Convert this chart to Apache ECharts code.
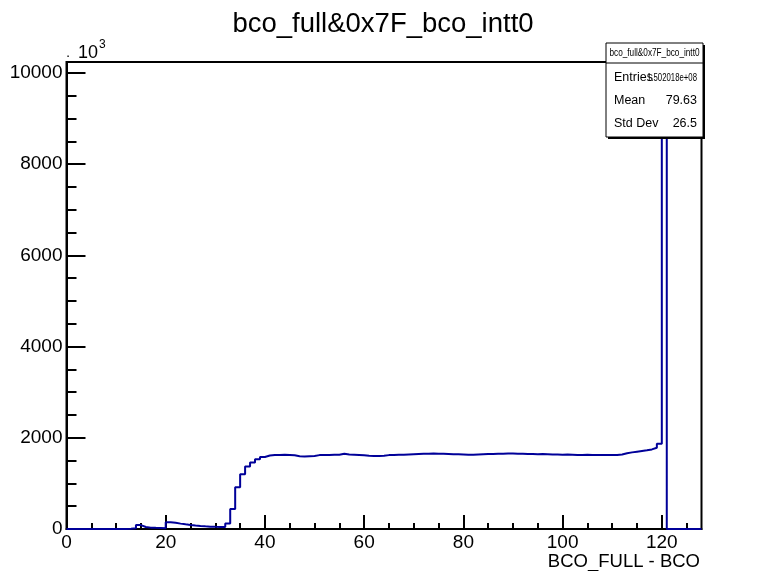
<!DOCTYPE html>
<html>
<head>
<meta charset="utf-8">
<script src="https://cdn.jsdelivr.net/npm/echarts@6/dist/echarts.min.js"></script>
<style>
  html, body { margin: 0; padding: 0; background: #fff; }
  #main { width: 766px; height: 571px; }
</style>
</head>
<body>
<div id="main"></div>
<script>
// bin contents (units of 10^3), bins of width 1 from 0 to 128
var binValues = [
    0, 0, 0, 0, 0, 0, 0, 0, 0, 0,
    0, 0, 3, 15, 85, 45, 30, 25, 22, 18,
    150, 135, 118, 102, 88, 76, 66, 58, 52, 48,
    45, 42, 120, 440, 915, 1200, 1370, 1460, 1530, 1580,
    1610, 1620, 1625, 1630, 1625, 1615, 1595, 1590, 1595, 1600,
    1620, 1625, 1625, 1630, 1630, 1650, 1635, 1630, 1625, 1615,
    1605, 1600, 1600, 1605, 1620, 1625, 1630, 1630, 1635, 1640,
    1645, 1650, 1650, 1655, 1650, 1650, 1645, 1640, 1640, 1635,
    1630, 1630, 1635, 1640, 1645, 1645, 1650, 1650, 1655, 1655,
    1650, 1650, 1645, 1645, 1640, 1645, 1640, 1635, 1635, 1630,
    1635, 1630, 1625, 1625, 1630, 1625, 1620, 1625, 1620, 1620,
    1625, 1635, 1660, 1680, 1695, 1710, 1725, 1745, 1780, 1870,
    9750, 0, 0, 0, 0, 0, 0, 0
];
var xMajorTicks = [0, 20, 40, 60, 80, 100, 120];
var xMinorTicks = [5, 10, 15, 25, 30, 35, 45, 50, 55, 65, 70, 75, 85, 90, 95, 105, 110, 115, 125];
var yMajorTicks = [0, 2000, 4000, 6000, 8000, 10000];
var yMinorTicks = [500, 1000, 1500, 2500, 3000, 3500, 4500, 5000, 5500, 6500, 7000, 7500, 8500, 9000, 9500];
var statsLabels = ['Entries', 'Mean', 'Std Dev'];
var statsValues = ['1.502018e+08', '79.63', '26.5'];
var histName = 'bco_full&0x7F_bco_intt0';

var stepData = [];
for (var i = 0; i < binValues.length; i++) {
    stepData.push([i, binValues[i]]);
}
stepData.push([binValues.length, binValues[binValues.length - 1]]);

var myChart = echarts.init(document.getElementById('main'));

var font = 'Liberation Sans, Arial, sans-serif';
var boxL = 606, boxT = 43, boxR = 703, boxB = 137;

// squeeze a text horizontally when it is wider than the room it has
function fitScale(text, size, maxW) {
    var c = document.createElement('canvas').getContext('2d');
    c.font = size + 'px ' + font;
    var w = c.measureText(text).width;
    return w > maxW ? maxW / w : 1;
}

var graphics = [
    // x axis title
    { type: 'text', z: 100, style: { text: 'BCO_FULL - BCO', x: 700, y: 562, align: 'right', verticalAlign: 'middle', font: '18.5px ' + font, fill: '#000' } },
    // exponent label
    { type: 'text', z: 100, style: { text: '·', x: 68, y: 56, align: 'center', verticalAlign: 'middle', font: '14px ' + font, fill: '#000' } },
    { type: 'text', z: 100, style: { text: '10', x: 78, y: 53, align: 'left', verticalAlign: 'middle', font: '18px ' + font, fill: '#000' } },
    { type: 'text', z: 100, style: { text: '3', x: 99, y: 45, align: 'left', verticalAlign: 'middle', font: '12px ' + font, fill: '#000' } },
    // stats box shadow + box
    { type: 'rect', z: 100, shape: { x: boxL + 2, y: boxT + 2, width: boxR - boxL, height: boxB - boxT }, style: { fill: '#000' } },
    { type: 'rect', z: 101, shape: { x: boxL, y: boxT, width: boxR - boxL, height: boxB - boxT }, style: { fill: '#fff', stroke: '#000', lineWidth: 1 } },
    { type: 'line', z: 102, shape: { x1: boxL, y1: 63, x2: boxR, y2: 63 }, style: { stroke: '#000', lineWidth: 1 } },
    {
        type: 'text', z: 102, x: (boxL + boxR) / 2, y: 53, scaleX: fitScale(histName, 11.5, 90),
        style: { text: histName, x: 0, y: 0, align: 'center', verticalAlign: 'middle', font: '11.5px ' + font, fill: '#000' }
    }
];
for (var k = 0; k < statsLabels.length; k++) {
    var valSize = k === 0 ? 10.5 : 12.5;
    graphics.push({ type: 'text', z: 102, style: { text: statsLabels[k], x: 614, y: 78 + k * 23, align: 'left', verticalAlign: 'middle', font: '12.5px ' + font, fill: '#000' } });
    graphics.push({
        type: 'text', z: 102, x: 697, y: 78 + k * 23, scaleX: fitScale(statsValues[k], valSize, 50),
        style: { text: statsValues[k], x: 0, y: 0, align: 'right', verticalAlign: 'middle', font: valSize + 'px ' + font, fill: '#000' }
    });
}

var option = {
    animation: false,
    backgroundColor: '#fff',
    title: {
        text: histName,
        left: 'center',
        top: 5,
        textStyle: { fontFamily: font, fontSize: 27.5, fontWeight: 'normal', color: '#000' }
    },
    grid: {
        left: 66.5,
        right: 64.5,
        top: 62,
        bottom: 42,
        show: true,
        borderColor: '#000',
        borderWidth: 2,
        backgroundColor: '#fff'
    },
    xAxis: [
        {
            type: 'value', min: 0, max: 128, position: 'bottom',
            axisLine: { show: true, onZero: false, lineStyle: { color: '#000', width: 2 } },
            axisTick: { show: true, inside: true, length: 14, customValues: xMajorTicks, lineStyle: { color: '#000', width: 2 } },
            axisLabel: { customValues: xMajorTicks, margin: 4, fontFamily: font, fontSize: 19, color: '#000' },
            splitLine: { show: false }
        },
        {
            type: 'value', min: 0, max: 128, position: 'bottom',
            axisLine: { show: false },
            axisTick: { show: true, inside: true, length: 6, customValues: xMinorTicks, lineStyle: { color: '#000', width: 2 } },
            axisLabel: { show: false },
            splitLine: { show: false }
        }
    ],
    yAxis: [
        {
            type: 'value', min: 0, max: 10240, position: 'left',
            axisLine: { show: true, onZero: false, lineStyle: { color: '#000', width: 2 } },
            axisTick: { show: true, inside: true, length: 19, customValues: yMajorTicks, lineStyle: { color: '#000', width: 2 } },
            axisLabel: {
                customValues: yMajorTicks, margin: 4, fontFamily: font, fontSize: 19, color: '#000',
                formatter: function (v) { return String(v); }
            },
            splitLine: { show: false }
        },
        {
            type: 'value', min: 0, max: 10240, position: 'left',
            axisLine: { show: false },
            axisTick: { show: true, inside: true, length: 10, customValues: yMinorTicks, lineStyle: { color: '#000', width: 2 } },
            axisLabel: { show: false },
            splitLine: { show: false }
        }
    ],
    series: [
        {
            name: histName,
            type: 'line',
            step: 'end',
            xAxisIndex: 0,
            yAxisIndex: 0,
            symbol: 'none',
            lineStyle: { color: '#000099', width: 2 },
            data: stepData
        }
    ],
    graphic: graphics
};
myChart.setOption(option);
</script>
</body>
</html>
